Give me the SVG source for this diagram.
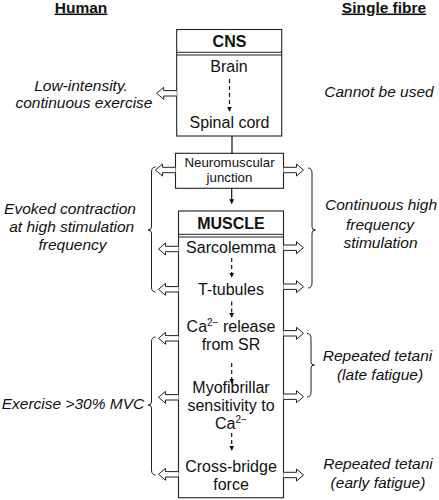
<svg xmlns="http://www.w3.org/2000/svg" width="439" height="500" viewBox="0 0 439 500">
  <style>
    text { font-family: "Liberation Sans", Arial, sans-serif; fill: #111; }
    .hdr { font-size: 15.5px; font-weight: bold; text-decoration: underline; text-anchor: middle; }
    .title { font-size: 16px; font-weight: bold; text-anchor: middle; }
    .item { font-size: 16px; text-anchor: middle; }
    .small { font-size: 13.3px; text-anchor: middle; }
    .note { font-size: 15.5px; font-style: italic; text-anchor: middle; }
    .box { fill: #fff; stroke: #222; stroke-width: 1.1; }
    .sep { stroke: #222; stroke-width: 1; }
    .hollow { fill: #fff; stroke: #222; stroke-width: 1; stroke-linejoin: miter; }
    .brace { fill: none; stroke: #222; stroke-width: 1; }
    .solid { stroke: #111; stroke-width: 1.2; fill: none; }
    .dash { stroke: #111; stroke-width: 1.2; fill: none; stroke-dasharray: 4 3; }
  </style>
  <defs>
    <path id="hollowArrow" class="hollow" d="M0,-2.7 H13 V-6 L20,0 L13,6 V2.7 H0"/>
    <marker id="head" viewBox="0 0 8 8" refX="7" refY="4" markerWidth="5" markerHeight="5" orient="auto" markerUnits="userSpaceOnUse">
      <path d="M0,0 L8,4 L0,8 Z" fill="#111"/>
    </marker>
  </defs>

  <!-- Column headers -->
  <g id="headers">
    <text class="hdr" x="81" y="12.5">Human</text>
    <text class="hdr" x="384" y="12.5">Single fibre</text>
  </g>

  <!-- CNS node -->
  <g id="cns">
    <rect class="box" x="176.7" y="29.5" width="105" height="106.5"/>
    <line class="sep" x1="176.7" y1="52.3" x2="281.7" y2="52.3"/>
    <line class="sep" x1="176.7" y1="55" x2="281.7" y2="55"/>
    <text class="title" x="229.5" y="47">CNS</text>
    <text class="item" x="229" y="72">Brain</text>
    <text class="item" x="229.5" y="128">Spinal cord</text>
  </g>

  <!-- Neuromuscular junction node -->
  <g id="nmj">
    <rect class="box" x="175.5" y="153.3" width="108" height="35"/>
    <text class="small" x="229.5" y="166.7">Neuromuscular</text>
    <text class="small" x="229.5" y="181.7">junction</text>
  </g>

  <!-- MUSCLE node -->
  <g id="muscle">
    <rect class="box" x="178.5" y="211" width="105" height="286.7"/>
    <line class="sep" x1="178.5" y1="234.3" x2="283.5" y2="234.3"/>
    <line class="sep" x1="178.5" y1="237" x2="283.5" y2="237"/>
    <text class="title" x="231" y="229">MUSCLE</text>
    <text class="item" x="231" y="253">Sarcolemma</text>
    <text class="item" x="231" y="295">T-tubules</text>
    <text class="item" x="231" y="332">Ca<tspan font-size="10" dy="-6">2−</tspan><tspan dy="6"> release</tspan></text>
    <text class="item" x="231" y="350">from SR</text>
    <text class="item" x="231" y="393">Myofibrillar</text>
    <text class="item" x="231" y="411">sensitivity to</text>
    <text class="item" x="231" y="429">Ca<tspan font-size="10" dy="-6">2−</tspan></text>
    <text class="item" x="231" y="472">Cross-bridge</text>
    <text class="item" x="231" y="490">force</text>
  </g>

  <!-- Connectors -->
  <g id="connectors">
    <!-- internal flow -->
    <line class="dash" x1="229.5" y1="79" x2="229.5" y2="111" marker-end="url(#head)"/>
    <line class="solid" x1="232" y1="136" x2="232" y2="153.3"/>
    <line class="solid" x1="231.7" y1="188.3" x2="231.7" y2="203.5" marker-end="url(#head)"/>
    <line class="dash" x1="231.7" y1="258" x2="231.7" y2="277" marker-end="url(#head)"/>
    <line class="dash" x1="231.7" y1="301.5" x2="231.7" y2="317" marker-end="url(#head)"/>
    <line class="dash" x1="231.7" y1="363" x2="231.7" y2="383" marker-end="url(#head)"/>
    <line class="dash" x1="231.7" y1="433" x2="231.7" y2="450" marker-end="url(#head)"/>

    <!-- hollow arrows to the left (Human) -->
    <use href="#hollowArrow" transform="translate(176.7,93.3) scale(-1,1)"/>
    <use href="#hollowArrow" transform="translate(175.5,170) scale(-1,1)"/>
    <use href="#hollowArrow" transform="translate(178.5,249) scale(-1,1)"/>
    <use href="#hollowArrow" transform="translate(178.5,289.3) scale(-1,1)"/>
    <use href="#hollowArrow" transform="translate(178.5,338.3) scale(-1,1)"/>
    <use href="#hollowArrow" transform="translate(178.5,397.3) scale(-1,1)"/>
    <use href="#hollowArrow" transform="translate(178.5,474.3) scale(-1,1)"/>

    <!-- hollow arrows to the right (Single fibre) -->
    <use href="#hollowArrow" transform="translate(283.5,170)"/>
    <use href="#hollowArrow" transform="translate(283.5,247.7)"/>
    <use href="#hollowArrow" transform="translate(283.5,286.7)"/>
    <use href="#hollowArrow" transform="translate(283.5,333.3)"/>
    <use href="#hollowArrow" transform="translate(283.5,396.7)"/>
    <use href="#hollowArrow" transform="translate(283.5,475)"/>

    <!-- braces -->
    <path class="brace" d="M155.5,167 Q151.5,167 151.5,172 L151.5,227 Q151.5,230 148,230 Q151.5,230 151.5,233 L151.5,287 Q151.5,292 155.5,292"/>
    <path class="brace" d="M155.5,337 Q151.5,337 151.5,342 L151.5,402 Q151.5,405 148,405 Q151.5,405 151.5,408 L151.5,470 Q151.5,475 155.5,475"/>
    <path class="brace" d="M308,168 Q312,168 312,173 L312,227 Q312,230 315.5,230 Q312,230 312,233 L312,283 Q312,288 308,288"/>
    <path class="brace" d="M307,333.5 Q311,333.5 311,338 L311,362 Q311,365 314.5,365 Q311,365 311,368 L311,392.5 Q311,397 307,397"/>
  </g>

  <!-- Annotations -->
  <g id="labels-human">
    <text class="note" x="81" y="90.7">Low-intensity.</text>
    <text class="note" x="84" y="108.3">continuous exercise</text>
    <text class="note" x="70" y="214">Evoked contraction</text>
    <text class="note" x="71.7" y="232">at high stimulation</text>
    <text class="note" x="72.5" y="250">frequency</text>
    <text class="note" x="73" y="409">Exercise &gt;30% MVC</text>
  </g>
  <g id="labels-fibre">
    <text class="note" x="379" y="97">Cannot be used</text>
    <text class="note" x="381" y="210">Continuous high</text>
    <text class="note" x="380" y="229.5">frequency</text>
    <text class="note" x="380.5" y="248">stimulation</text>
    <text class="note" x="377.5" y="361">Repeated tetani</text>
    <text class="note" x="380" y="380">(late fatigue)</text>
    <text class="note" x="378" y="469.3">Repeated tetani</text>
    <text class="note" x="378" y="488.3">(early fatigue)</text>
  </g>
</svg>
